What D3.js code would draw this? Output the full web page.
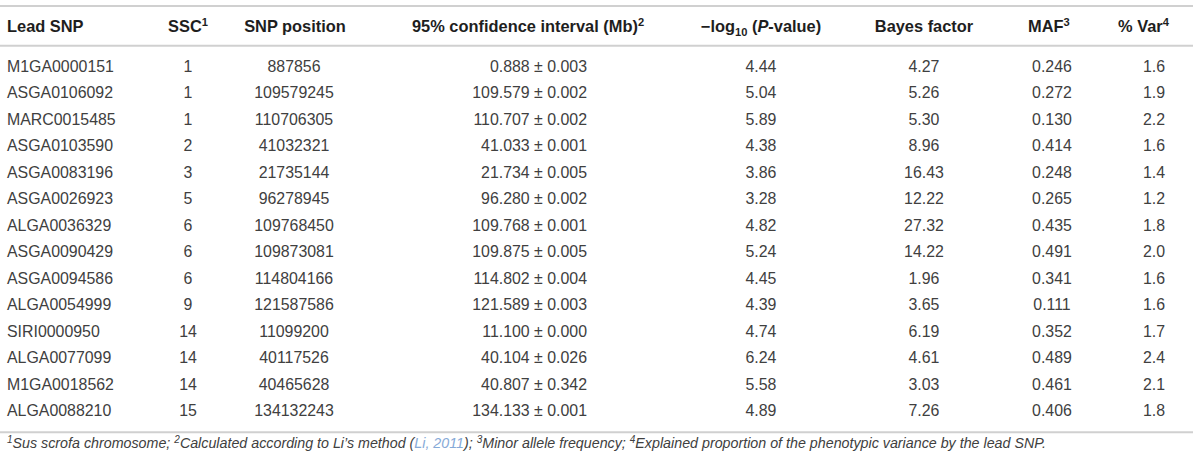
<!DOCTYPE html>
<html>
<head>
<meta charset="utf-8">
<script src="https://cdn.jsdelivr.net/npm/d3@7"></script>
<style>
  html, body { margin: 0; padding: 0; background: #fff; }
  svg { display: block; font-family: "Liberation Sans", Arial, Helvetica, sans-serif; }
</style>
</head>
<body>
<svg id="chart" width="1200" height="467"></svg>
<script>
// ---- data ----
const leadSNP = ["M1GA0000151","ASGA0106092","MARC0015485","ASGA0103590","ASGA0083196","ASGA0026923","ALGA0036329","ASGA0090429","ASGA0094586","ALGA0054999","SIRI0000950","ALGA0077099","M1GA0018562","ALGA0088210"];
const ssc = [1,1,1,2,3,5,6,6,6,9,14,14,14,15];
const snpPosition = [887856,109579245,110706305,41032321,21735144,96278945,109768450,109873081,114804166,121587586,11099200,40117526,40465628,134132243];
const ciCenter = [0.888,109.579,110.707,41.033,21.734,96.280,109.768,109.875,114.802,121.589,11.100,40.104,40.807,134.133];
const ciHalf = [0.003,0.002,0.002,0.001,0.005,0.002,0.001,0.005,0.004,0.003,0.000,0.026,0.342,0.001];
const negLogP = [4.44,5.04,5.89,4.38,3.86,3.28,4.82,5.24,4.45,4.39,4.74,6.24,5.58,4.89];
const bayesFactor = [4.27,5.26,5.30,8.96,16.43,12.22,27.32,14.22,1.96,3.65,6.19,4.61,3.03,7.26];
const maf = [0.246,0.272,0.130,0.414,0.248,0.265,0.435,0.491,0.341,0.111,0.352,0.489,0.461,0.406];
const pctVar = [1.6,1.9,2.2,1.6,1.4,1.2,1.8,2.0,1.6,1.6,1.7,2.4,2.1,1.8];

const f3 = d3.format(".3f"), f2 = d3.format(".2f"), f1 = d3.format(".1f");

// ---- layout ----
const svg = d3.select("#chart");
const rowIdx = d3.range(leadSNP.length);
const y = d3.scalePoint().domain(rowIdx).range([66.3, 410.8]);
const baseOff = 5.5;
const bodyColor = "#404040";
const headColor = "#1e1e1e";
const ruleColor = "#d0d0d0";

const columns = [
  {x: 7,    anchor: "start",  fmt: i => leadSNP[i]},
  {x: 188,  anchor: "middle", fmt: i => String(ssc[i])},
  {x: 294,  anchor: "middle", fmt: i => String(snpPosition[i])},
  {x: 587,  anchor: "end",    fmt: i => f3(ciCenter[i]) + " \u00B1 " + f3(ciHalf[i])},
  {x: 761,  anchor: "middle", fmt: i => f2(negLogP[i])},
  {x: 924,  anchor: "middle", fmt: i => f2(bayesFactor[i])},
  {x: 1052, anchor: "middle", fmt: i => f3(maf[i])},
  {x: 1154, anchor: "middle", fmt: i => f1(pctVar[i])}
];

// rules
const rules = [6, 45.7, 432.3];
svg.selectAll("line.rule").data(rules).join("line")
  .attr("class", "rule")
  .attr("x1", 0).attr("x2", 1193)
  .attr("y1", d => d).attr("y2", d => d)
  .attr("stroke", ruleColor).attr("stroke-width", 2);

// headers
const headers = [
  {x: 7,    anchor: "start",  parts: [["Lead SNP","n"]]},
  {x: 188,  anchor: "middle", parts: [["SSC","n"],["1","sup"]]},
  {x: 295,  anchor: "middle", parts: [["SNP position","n"]]},
  {x: 412,  anchor: "start",  parts: [["95% confidence interval (Mb)","n"],["2","sup"]]},
  {x: 761,  anchor: "middle", parts: [["\u2212log","n"],["10","sub"],[" (","n"],["P","i"],["-value)","n"]]},
  {x: 924,  anchor: "middle", parts: [["Bayes factor","n"]]},
  {x: 1028, anchor: "start",  parts: [["MAF","n"],["3","sup"]]},
  {x: 1118, anchor: "start",  parts: [["% Var","n"],["4","sup"]]}
];

const headY = 32;
const hfs = 16.4;
const fs = 15.9;
function addParts(textSel, parts, size) {
  let shift = 0;
  parts.forEach(([t, kind]) => {
    const ts = textSel.append("tspan").text(t);
    if (kind === "sup") {
      ts.attr("font-size", size * 0.68).attr("dy", -size * 0.38 - shift); shift = -size * 0.38;
    } else if (kind === "sub") {
      ts.attr("font-size", size * 0.68).attr("dy", size * 0.25 - shift); shift = size * 0.25;
    } else {
      ts.attr("dy", -shift); shift = 0;
      if (kind === "i") ts.attr("font-style", "italic");
    }
  });
}

headers.forEach(h => {
  const t = svg.append("text")
    .attr("x", h.x).attr("y", headY)
    .attr("text-anchor", h.anchor)
    .attr("font-size", hfs).attr("font-weight", "bold")
    .attr("fill", headColor);
  addParts(t, h.parts, hfs);
});

// body cells
const rows = svg.selectAll("g.row").data(rowIdx).join("g")
  .attr("class", "row")
  .attr("transform", i => `translate(0,${y(i) + baseOff})`);

columns.forEach(c => {
  rows.append("text")
    .attr("x", c.x)
    .attr("text-anchor", c.anchor)
    .attr("font-size", fs)
    .attr("fill", bodyColor)
    .text(i => c.fmt(i));
});

// footnote
const footParts = [
  ["1","sup"],["Sus scrofa chromosome; ","n"],
  ["2","sup"],["Calculated according to Li\u2019s method (","n"],
  ["Li, 2011","link"],["); ","n"],
  ["3","sup"],["Minor allele frequency; ","n"],
  ["4","sup"],["Explained proportion of the phenotypic variance by the lead SNP.","n"]
];
const fFs = 14;
const foot = svg.append("text")
  .attr("x", 7).attr("y", 448.3)
  .attr("font-size", fFs).attr("font-style", "italic")
  .attr("fill", bodyColor);
footParts.forEach(([t, kind]) => {
  const ts = foot.append("tspan").text(t);
  if (kind === "sup") ts.attr("font-size", fFs * 0.7).attr("data-shift", "sup");
  if (kind === "link") ts.attr("fill", "#86aad8");
});
let sh = 0;
foot.selectAll("tspan").each(function() {
  const el = d3.select(this);
  if (el.attr("data-shift") === "sup") { el.attr("dy", -fFs * 0.38 - sh); sh = -fFs * 0.38; }
  else { el.attr("dy", -sh); sh = 0; }
});
// fit footnote to reference width
const target = 1040;
const len = foot.node().getComputedTextLength();
if (len > 0) {
  const nf = fFs * target / len;
  foot.attr("font-size", nf);
  foot.selectAll("tspan").filter(function(){ return d3.select(this).attr("data-shift") === "sup"; })
    .attr("font-size", nf * 0.7);
}
</script>
</body>
</html>
